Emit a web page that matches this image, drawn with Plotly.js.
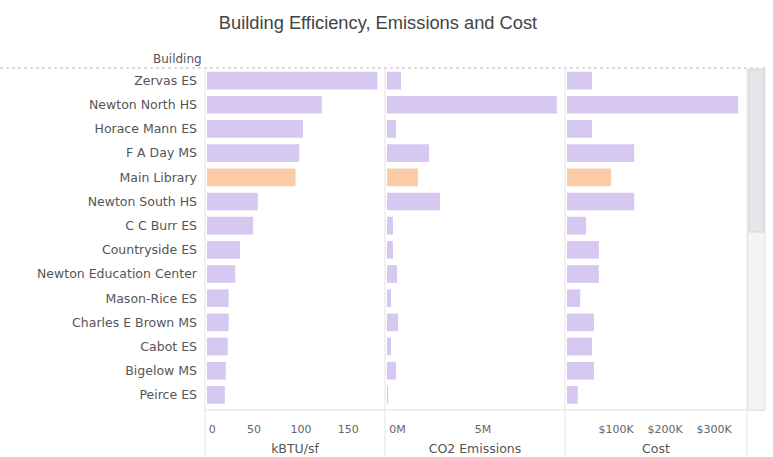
<!DOCTYPE html>
<html><head><meta charset="utf-8">
<script src="https://cdn.plot.ly/plotly-3.0.1.min.js"></script>
<style>html,body{margin:0;padding:0;background:#fff}#chart{width:773px;height:457px}</style>
</head><body><div id="chart"></div>
<script>
const buildings = ["Zervas ES","Newton North HS","Horace Mann ES","F A Day MS","Main Library","Newton South HS","C C Burr ES","Countryside ES","Newton Education Center","Mason-Rice ES","Charles E Brown MS","Cabot ES","Bigelow MS","Peirce ES"];
const kbtuPerSf = [181,122,102,98,94,54,49,35,30,23,23,22,20,19];
const co2Emissions = [0.73,8.85,0.47,2.19,1.61,2.76,0.31,0.31,0.52,0.21,0.57,0.21,0.47,0.06].map(v=>v*1e6);
const costUsd = [51,349,51,137,90,137,39,65,65,27,55,51,55,22].map(v=>v*1000);
const highlighted = "Main Library";
const kbtuTicks = [0,50,100,150], kbtuTickText = ["\u00a0\u00a0\u00a00","50","100","150"];
const co2Ticks = [0,5e6], co2TickText = ["\u00a0\u00a0\u00a0\u00a0\u00a0\u00a00M","5M"];
const costTicks = [100000,200000,300000], costTickText = ["$100K","$200K","$300K"];

const W=773,H=457;
const purple="#d6c8f0", orange="#f9cba6";
const colors = buildings.map(b => b===highlighted ? orange : purple);
const fx = p => p/W, fy = p => 1 - p/H;
const font = "Liberation Sans, Arial, sans-serif";
const font2 = "DejaVu Sans, Verdana, sans-serif";

function bar(x, xa){return {type:'bar',orientation:'h',y:buildings,x:x,xaxis:xa,yaxis:'y',
  marker:{color:colors,line:{width:0}},hoverinfo:'x+y'};}

const xbase = {showgrid:false,zeroline:false,showline:false,ticks:'',fixedrange:true,
  tickfont:{family:font2,size:11,color:'#666'},ticklabelstandoff:14,anchor:'y'};
const tfont = {family:font2,size:12.5,color:'#555'};
const layout = {
  width:W,height:H,margin:{l:0,r:0,t:0,b:0},paper_bgcolor:'#fff',plot_bgcolor:'rgba(0,0,0,0)',
  showlegend:false,bargap:0.27,
  title:{text:'Building Efficiency, Emissions and Cost',x:fx(378),xanchor:'center',y:fy(23),yanchor:'middle',
    font:{family:font,size:18.3,color:'#444'}},
  yaxis:{domain:[fy(407),fy(68.5)],autorange:'reversed',type:'category',showgrid:false,zeroline:false,
    showline:false,ticks:'',ticklabelstandoff:9,tickfont:{family:font2,size:12.5,color:'#555'},anchor:'x'},
  xaxis:Object.assign({},xbase,{domain:[fx(207),fx(383)],range:[0,187],tickvals:kbtuTicks,ticktext:kbtuTickText,
    title:{text:'kBTU/sf',font:tfont,standoff:9}}),
  xaxis2:Object.assign({},xbase,{domain:[fx(387),fx(563)],range:[0,9.17e6],tickvals:co2Ticks,ticktext:co2TickText,
    title:{text:'CO2 Emissions',font:tfont,standoff:9}}),
  xaxis3:Object.assign({},xbase,{domain:[fx(567),fx(745)],range:[0,363000],tickvals:costTicks,ticktext:costTickText,
    title:{text:'Cost',font:tfont,standoff:9}}),
  annotations:[{text:'Building',xref:'paper',yref:'paper',x:fx(204),y:fy(59),xanchor:'right',yanchor:'middle',
    showarrow:false,font:{family:font2,size:12,color:'#555'}}],
  shapes:[
    {type:'line',xref:'paper',yref:'paper',x0:0,x1:fx(765),y0:fy(68),y1:fy(68),line:{color:'#bbb',width:1,dash:'dot'}},
    {type:'line',xref:'paper',yref:'paper',x0:fx(205),x1:fx(765),y0:fy(410),y1:fy(410),line:{color:'#ddd',width:1}},
    {type:'line',xref:'paper',yref:'paper',x0:fx(205),x1:fx(205),y0:fy(68),y1:0,line:{color:'#e3e3e3',width:1}},
    {type:'line',xref:'paper',yref:'paper',x0:fx(385),x1:fx(385),y0:fy(68),y1:0,line:{color:'#e3e3e3',width:1}},
    {type:'line',xref:'paper',yref:'paper',x0:fx(565),x1:fx(565),y0:fy(68),y1:0,line:{color:'#e3e3e3',width:1}},
    {type:'line',xref:'paper',yref:'paper',x0:fx(747),x1:fx(747),y0:fy(68),y1:0,line:{color:'#e3e3e3',width:1}},
    {type:'rect',xref:'paper',yref:'paper',x0:fx(748),x1:fx(765),y0:fy(410),y1:fy(69),fillcolor:'#f4f4f6',line:{color:'#e0e0e0',width:1}},
    {type:'rect',xref:'paper',yref:'paper',x0:fx(749),x1:fx(764),y0:fy(232),y1:fy(70),fillcolor:'#e6e6ea',line:{color:'#d6d6da',width:1}}
  ]
};
Plotly.newPlot('chart',[bar(kbtuPerSf,'x'),bar(co2Emissions,'x2'),bar(costUsd,'x3')],layout,{displayModeBar:false,staticPlot:true});
</script></body></html>
